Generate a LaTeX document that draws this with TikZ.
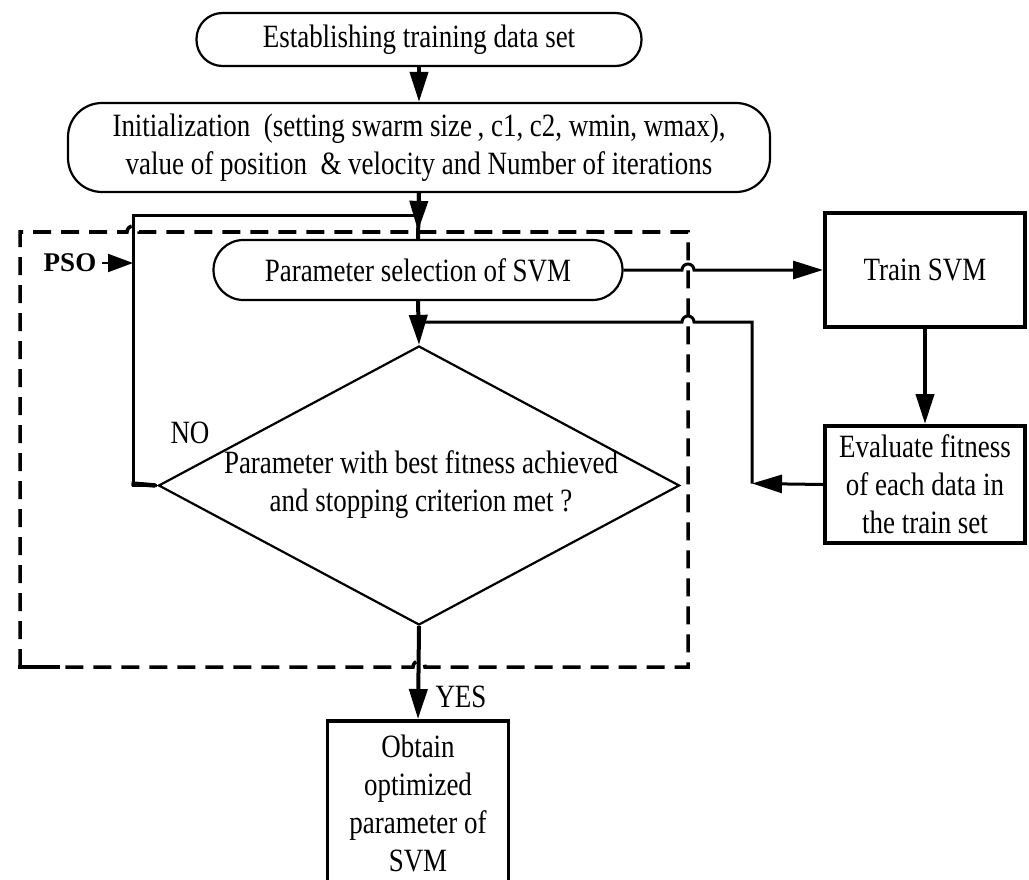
\documentclass[tikz,border=0pt]{standalone}
\usepackage{fontspec}
\setmainfont{Liberation Serif}[FakeStretch=0.83]
\newfontfamily\psofont{Liberation Serif}
\usetikzlibrary{arrows.meta,shapes.geometric,calc}
\tikzset{
  txt/.style={font=\fontsize{32.5}{38}\selectfont, align=center, inner sep=0pt},
  term/.style={txt, draw, line width=2.2pt},
  rbox/.style={txt, draw, line width=4pt},
  conn/.style={line width=3pt},
  vconn/.style={line width=4pt},
  arr/.style={-{Triangle[length=30pt,width=18pt]}},
  psobox/.style={draw, line width=3.5pt, dash pattern=on 18pt off 10pt},
}
\begin{document}
\begin{tikzpicture}[x=1pt,y=-1pt]
\useasboundingbox (0,0) rectangle (1029,880);
\clip (0,0) rectangle (1029,880);

% nodes
\node[term, rounded corners=26pt, minimum width=445pt, minimum height=53pt] (est) at (419,39.5) {Establishing training data set};
\node[term, rounded corners=34pt, minimum width=702pt, minimum height=89pt] (init) at (419,147.5)
  {Initialization\ \ (setting swarm size\,, c1, c2, wmin, wmax),\\ value of position\ \ \& velocity and Number of iterations};
\node[term, rounded corners=30pt, minimum width=409pt, minimum height=60pt] (param) at (418,270) {Parameter selection of SVM};
\node[rbox, minimum width=200pt, minimum height=114pt] (train) at (925,270) {Train SVM};
\node[rbox, minimum width=200pt, minimum height=117pt] (eval) at (925,484.5) {Evaluate fitness\\of each data in\\the train set};
\node[diamond, draw, line width=2.2pt, minimum width=521pt, minimum height=279pt, inner sep=0pt] (dec) at (419,485.5) {};
\node[txt] (dectext) at (421,485) {Parameter with best fitness achieved\\and stopping criterion met ?};
\node[rbox, line width=3.6pt, minimum width=181pt, minimum height=166pt, anchor=north] (obt) at (418,719)
  {Obtain\\optimized\\parameter of\\SVM};
\node[txt] (no) at (190,433) {NO};
\node[txt] (yes) at (461,697) {YES};
\node[font=\psofont\fontsize{27}{30}\selectfont\bfseries, inner sep=0pt] (pso) at (70,263) {PSO};

% coordinates
\coordinate (lA) at (133,216);
\coordinate (lB) at (419,216);
\coordinate (fbA) at (752,483.5);
\coordinate (fbB) at (752,322);

% dashed PSO frame with hops
\draw[psobox] (20,667) -- (20,232) -- (127,232) arc[start angle=180,end angle=0,radius=6pt]
  -- (688,232) -- (688,667) -- (425,667) arc[start angle=0,end angle=180,radius=6pt] -- (20,667);
\draw[line width=3.5pt] (18.25,667) -- (60,667);

% connectors
\draw[vconn, arr] (est.south) -- (init.north);
\draw[vconn] (init.south) -- (param.north);
\draw[vconn, arr] (init.south) -- ($(param.north)+(0,-8)$);
\draw[conn] (dec.west) -| (lA) -- (lB);
\draw[line width=4.5pt] ($(dec.west)+(-2,0)$) -- (131.5,483.5);
\draw[line width=2pt, shorten <=6pt, -{Triangle[length=25pt,width=18pt]}] (pso.east) -- (pso.east -| lA);
\draw[conn, arr] (param.east) -- (682,270) arc[start angle=180,end angle=0,radius=6pt] -- (train.west);
\draw[vconn, arr] (train.south) -- (eval.north);
\draw[conn, arr] (eval.west) -- (fbA);
\draw[conn] (fbA) -- (fbB) -- (694,322) arc[start angle=0,end angle=180,radius=6pt] -- (419,322);
\draw[vconn, arr] (param.south) -- (dec.north);
\draw[vconn, arr] (dec.south) -- (obt.north);
\end{tikzpicture}
\end{document}
